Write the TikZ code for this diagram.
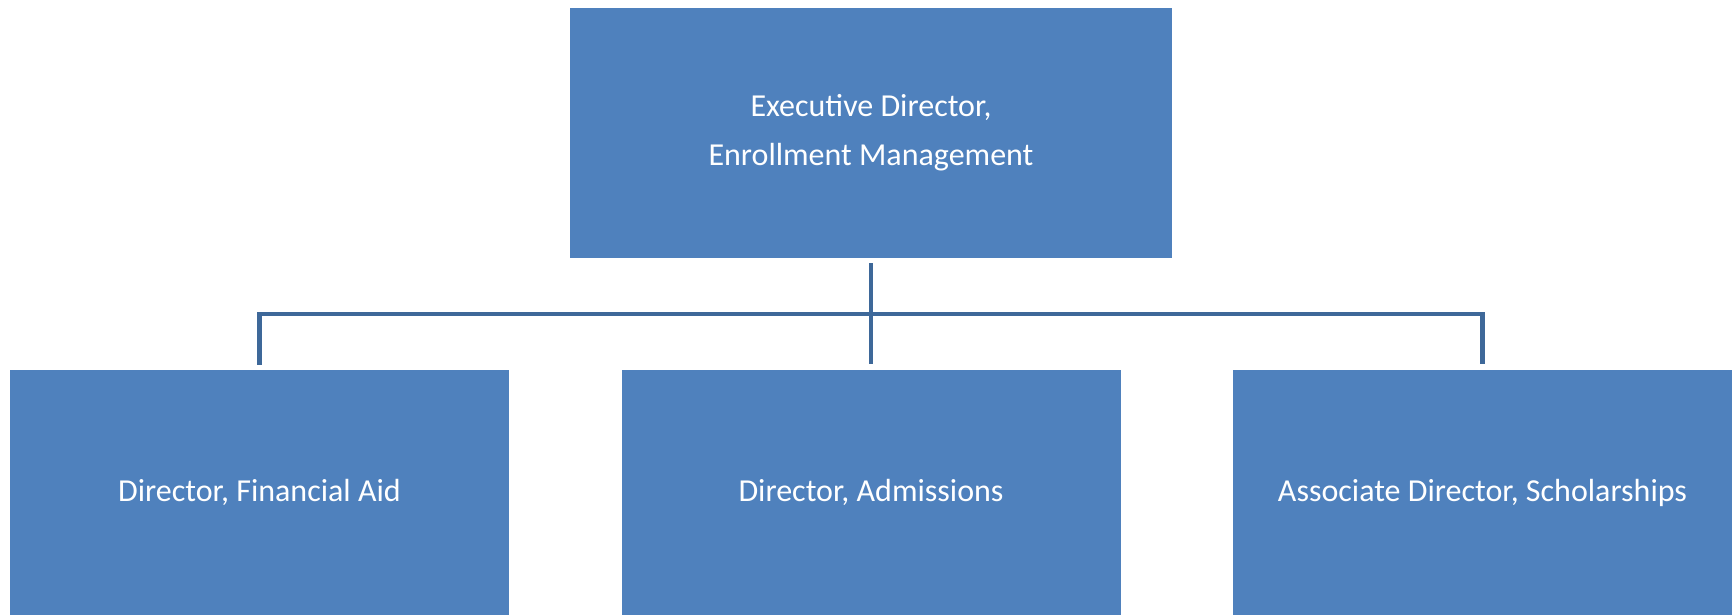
\documentclass[tikz,border=0pt]{standalone}
\usepackage{fontspec}
\setmainfont{Carlito}
\usepackage{tikz}

\definecolor{boxblue}{RGB}{79,129,189}
\definecolor{linkblue}{RGB}{62,104,153}

\tikzset{
    orgbox/.style={fill=boxblue, draw=none, text=white, align=center, inner sep=0pt,
        font=\fontsize{24pt}{36.75pt}\selectfont},
    topbox/.style={orgbox, minimum width=451.5pt, minimum height=187.5pt},
    subbox/.style={orgbox, minimum width=374.25pt, minimum height=184pt},
    link/.style={draw=linkblue, line width=3.6pt, shorten <=3.75pt, shorten >=4.5pt}
}

\begin{document}
\begin{tikzpicture}[x=0.75pt,y=0.75pt,yscale=-1,xscale=1]
    \useasboundingbox (0,0) rectangle (1735,615);

    % Boxes
    \node [topbox] (exec) at (871,133) {Executive Director,\\Enrollment Management};
    \node [subbox] (finaid) at (259.5,492.5) {Director, Financial Aid};
    \node [subbox] (admis) at (871,492.5) {Director, Admissions};
    \node [subbox] (schol) at (1482.5,492.5) {Associate Director, Scholarships};

    % Connectors
    \coordinate (bar) at (871,314);
    \draw [link] (exec) -- (admis);
    \draw [link] (finaid) |- (bar) -| (schol);

\end{tikzpicture}
\end{document}
